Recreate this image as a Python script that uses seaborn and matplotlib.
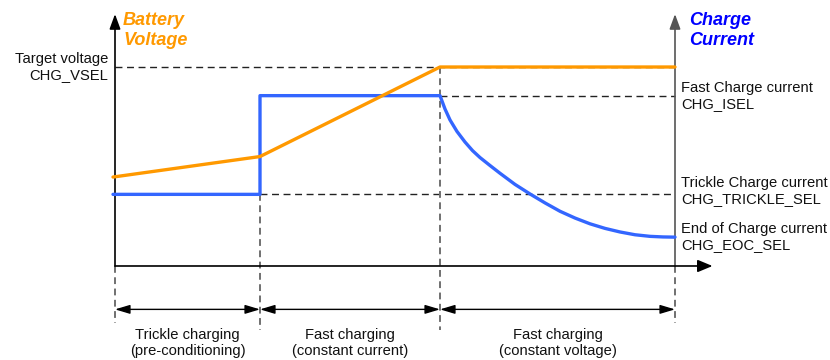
import numpy as np
import matplotlib
matplotlib.use('Agg')
import matplotlib.pyplot as plt
import seaborn as sns

# Phase boundaries (time units) and phase names
phase_t = [0, 29, 65, 112]
phase_labels = ['Trickle charging\n(pre-conditioning)',
                'Fast charging\n(constant current)',
                'Fast charging\n(constant voltage)']

# Battery voltage curve (% of target)
volt_t = [-0.4, 29, 65, 112]
volt_v = [44.7, 55, 100, 100]

# Charge current curve (same scale)
curr_t = [-0.4, 29, 29, 65, 66, 67, 68.4, 70, 71.5, 73, 75, 77, 80, 83, 86, 89,
          92, 95, 98, 101, 104, 107, 109.6, 112]
curr_v = [36, 36, 85.6, 85.6, 78.9, 73.4, 67.6, 62.3, 58.0, 54.5, 50.5, 46.6, 41.0,
          36.2, 31.7, 27.5, 24.1, 21.2, 18.9, 17.1, 15.7, 14.9, 14.6, 14.5]

# Reference levels
v_target = 100
i_fast = 85.6
i_trickle = 36
i_eoc = 14.6

ORANGE = '#FF9900'
BLUE = '#3366FF'
TITLE_BLUE = '#0000FF'

sns.set_theme(style='white')
plt.rcParams['font.family'] = ['Liberation Sans', 'DejaVu Sans']

fig = plt.figure(figsize=(8.3, 3.6), dpi=100)
ax = fig.add_axes([0, 0, 1, 1])
ax.set_xlim(-23, 143)
ax.set_ylim(-47.24, 133.67)
ax.axis('off')

# dashed guide lines
hdash = dict(lw=1.0, dashes=(5, 3.3), color='#222222', zorder=1)
ax.plot([phase_t[0], phase_t[3]], [v_target, v_target], **hdash)
ax.plot([phase_t[2], phase_t[3]], [i_fast, i_fast], **hdash)
ax.plot([phase_t[1], phase_t[3]], [i_trickle, i_trickle], **hdash)

vdash = dict(lw=1.4, dashes=(3.5, 2.3), color='#707070', zorder=1)
ax.plot([phase_t[0], phase_t[0]], [0, -28.6], **vdash)
ax.plot([phase_t[1], phase_t[1]], [i_trickle, -32.2], **vdash)
ax.plot([phase_t[2], phase_t[2]], [v_target, -32.2], **vdash)
ax.plot([phase_t[3], phase_t[3]], [0, -28.6], **vdash)

# axes with arrows
ax.annotate('', xy=(phase_t[0], 126.6), xytext=(phase_t[0], 0),
            arrowprops=dict(arrowstyle='-|>,head_length=0.6,head_width=0.22', mutation_scale=15,
                            color='black', lw=1.2, shrinkA=0, shrinkB=0), zorder=2)
ax.annotate('', xy=(phase_t[3], 126.6), xytext=(phase_t[3], 0),
            arrowprops=dict(arrowstyle='-|>,head_length=0.6,head_width=0.22', mutation_scale=15,
                            color='#555555', lw=1.2, shrinkA=0, shrinkB=0), zorder=2)
ax.annotate('', xy=(119.5, 0), xytext=(phase_t[0], 0),
            arrowprops=dict(arrowstyle='-|>,head_length=0.6,head_width=0.25', mutation_scale=15,
                            color='black', lw=1.2, shrinkA=0, shrinkB=0), zorder=2)

# phase duration arrows and labels
for k in range(3):
    ax.annotate('', xy=(phase_t[k + 1], -21.8), xytext=(phase_t[k], -21.8),
                arrowprops=dict(arrowstyle='<|-|>,head_length=0.6,head_width=0.18', mutation_scale=15,
                                color='black', lw=1.0, shrinkA=0, shrinkB=0))
    ax.text((phase_t[k] + phase_t[k + 1]) / 2, -38.7, phase_labels[k],
            ha='center', va='center', fontsize=10.6, color='#111111', linespacing=1.2)

# curves
sns.lineplot(x=curr_t, y=curr_v, ax=ax, sort=False, estimator=None,
             color=BLUE, lw=2.4, zorder=3, legend=False)
sns.lineplot(x=volt_t, y=volt_v, ax=ax, sort=False, estimator=None,
             color=ORANGE, lw=2.4, zorder=4, legend=False)

# axis titles
ttl = dict(ha='left', va='top', fontsize=13, fontweight='bold', fontstyle='italic', linespacing=1.25)
ax.text(1.6, 127.6, 'Battery\nVoltage', color=ORANGE, **ttl)
ax.text(114.8, 127.6, 'Charge\nCurrent', color=TITLE_BLUE, **ttl)

# level labels
lab = dict(fontsize=10.6, color='#111111', va='center', linespacing=1.2)
ax.text(-1.4, v_target, 'Target voltage\nCHG_VSEL', ha='right', **lab)
ax.text(113.2, i_fast, 'Fast Charge current\nCHG_ISEL', ha='left', **lab)
ax.text(113.2, i_trickle + 1.6, 'Trickle Charge current\nCHG_TRICKLE_SEL', ha='left', **lab)
ax.text(113.2, i_eoc, 'End of Charge current\nCHG_EOC_SEL', ha='left', **lab)

fig.savefig('out.png', dpi=100, facecolor='white')
